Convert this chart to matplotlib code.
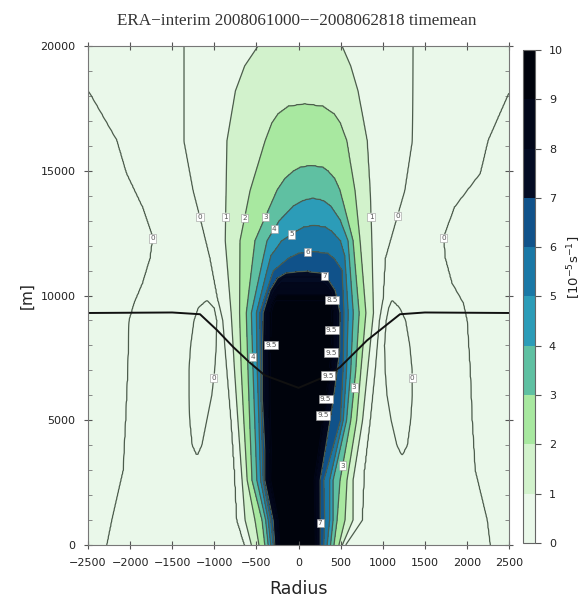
import numpy as np
import matplotlib.pyplot as plt

# title and colour levels
title = 'ERA\u2212interim 2008061000\u2212\u22122008062818 timemean'
levels = list(range(0, 11))
fill_colors = ['#eaf8ea', '#d2f2cc', '#a8e8a0', '#5fc0a2', '#2c9cb8',
               '#1a78a6', '#10528a', '#040c24', '#02071a', '#00030c']

# contour crossings: height [m], radius left / right
lev0_h = [0, 1000, 3000, 5000, 7000, 9000, 9800, 11500, 13150, 14200, 16200, 20000]
lev0_left = [-640, -730, -760, -800, -850, -900, -955, -1050, -1170, -1250, -1360, -1360]
lev0_right = [560, 754, 780, 850, 910, 960, 1000, 1030, 1170, 1260, 1350, 1360]

lev1_h = [0, 1000, 2600, 5000, 7000, 9300, 12200, 14200, 16200, 18200, 19200, 20000]
lev1_left = [-560, -635, -670, -720, -760, -800, -870, -860, -850, -750, -640, -481]
lev1_right = [520, 647, 647, 760, 820, 890, 870, 850, 815, 707, 620, 517]

lev2_h = [0, 1000, 2600, 5000, 7000, 9300, 12200, 14200, 16200, 16900, 17300, 17600, 17700]
lev2_left = [-470, -517, -610, -650, -680, -700, -695, -576, -398, -320, -240, -120, 75]
lev2_right = [480, 552, 576, 690, 740, 800, 730, 671, 576, 500, 420, 290, 75]

lev3_h = [0, 1000, 2600, 5000, 7000, 9300, 12200, 14230, 14700, 15000, 15150, 15230]
lev3_left = [-400, -433, -553, -580, -600, -620, -517, -255, -160, -60, 20, 150]
lev3_right = [420, 457, 493, 620, 680, 720, 647, 493, 430, 350, 290, 150]

lev4_h = [0, 1000, 2600, 5000, 7000, 9300, 12200, 13000, 13600, 13830, 13910]
lev4_left = [-360, -390, -495, -520, -540, -560, -374, -230, -60, 60, 170]
lev4_right = [380, 410, 410, 570, 620, 650, 588, 500, 380, 290, 170]

lev5_h = [0, 1000, 2600, 5000, 7000, 9300, 11600, 12200, 12600, 12750, 12830]
lev5_left = [-330, -360, -450, -470, -490, -500, -330, -200, -20, 60, 190]
lev5_right = [340, 370, 370, 530, 570, 590, 550, 500, 390, 320, 190]

lev6_h = [0, 1000, 2600, 5000, 7000, 9300, 11000, 11500, 11700, 11780]
lev6_left = [-300, -330, -420, -440, -450, -460, -300, -120, 0, 170]
lev6_right = [300, 310, 300, 500, 530, 540, 520, 420, 350, 170]

lev7_h = [0, 1000, 2600, 3800, 5800, 7800, 9300, 10200, 10700, 10900, 10980]
lev7_left = [-280, -300, -400, -400, -430, -430, -420, -340, -250, -150, 50]
lev7_right = [255, 255, 255, 315, 410, 490, 493, 435, 340, 260, 50]

# value in the middle of the column
peak_h = [0, 9600, 10980, 11780, 12830, 13910, 15230, 17700, 20000]
peak_val = [9.9, 9.9, 7, 6, 5, 4, 3, 2, 1.6]

# outer zero lines
far_h = [0, 1000, 3000, 5000, 7000, 9000, 9700, 10500, 11500, 12350, 13550, 14900, 16230, 18100, 20000]
far_left = [-2275, -2215, -2080, -2050, -2025, -2010, -1950, -1850, -1760, -1727, -1850, -2040, -2156, -2475, -2900]
far_right = [2275, 2239, 2096, 2060, 2037, 2000, 1954, 1820, 1740, 1720, 1850, 2156, 2250, 2494, 2900]

ell_h = [3600, 4000, 5000, 6000, 7000, 8000, 9000, 9500, 9800]
ell_left_out = [-1205, -1260, -1290, -1300, -1300, -1280, -1240, -1190, -1087]
ell_left_in = [-1205, -1150, -1090, -1030, -995, -975, -970, -1000, -1087]
ell_right_in = [1229, 1170, 1100, 1050, 1027, 1020, 1040, 1070, 1110]
ell_right_out = [1229, 1290, 1330, 1350, 1348, 1320, 1270, 1200, 1110]

# thick black line
trop_r = [-2500, -1500, -1170, -970, -777, -575, -400, 0, 350, 493, 813, 1205, 1500, 2500]
trop_h = [9300, 9320, 9250, 8620, 7940, 7300, 6800, 6300, 6800, 7130, 8200, 9250, 9320, 9300]

# where the contour labels sit (radius, height)
label_pos = [(-1740, 12300), (-1170, 13150), (-1016, 6700), (-909, 13150),
             (-700, 13150), (-395, 13150), (-302, 12700), (-125, 12625),
             (113, 11700), (315, 10820), (909, 13150),
             (1206, 13150), (1325, 6700), (1740, 12300), (635, 6330),
             (493, 3200), (280, 880), (-575, 7540)]
core_label_pos = [(398, 9820), (374, 8620), (339, 7735), (315, 6810),
                  (-220, 8015), (200, 5900), (60, 5300)]

col_h = [lev0_h, lev1_h, lev2_h, lev3_h, lev4_h, lev5_h, lev6_h, lev7_h]
col_left = [lev0_left, lev1_left, lev2_left, lev3_left, lev4_left, lev5_left, lev6_left, lev7_left]
col_right = [lev0_right, lev1_right, lev2_right, lev3_right, lev4_right, lev5_right, lev6_right, lev7_right]

# build the field from the digitised crossings
r_grid = np.linspace(-2500, 2500, 501)
h_grid = np.linspace(0, 20000, 401)
Z = np.zeros((len(h_grid), len(r_grid)))
for i, h in enumerate(h_grid):
    present = [L for L in range(8) if h <= col_h[L][-1]]
    lefts = [np.interp(h, col_h[L], col_left[L]) for L in present]
    rights = [np.interp(h, col_h[L], col_right[L]) for L in present]
    centre = 0.5 * (lefts[-1] + rights[-1])
    peak = np.interp(h, peak_h, peak_val)
    in_ell = ell_h[0] < h < ell_h[-1]

    fl = np.interp(h, far_h, far_left)
    rk = [-6000, fl]
    vk = [0.3, 0.0]
    if in_ell:
        eo = np.interp(h, ell_h, ell_left_out)
        ei = np.interp(h, ell_h, ell_left_in)
        rk += [0.5 * (fl + eo), eo, 0.5 * (eo + ei), ei, 0.5 * (ei + lefts[0])]
        vk += [-0.3, 0, 0.3, 0, -0.3]
    else:
        rk += [0.5 * (fl + lefts[0])]
        vk += [-0.3]
    if present[-1] == 7:
        # core saturates quickly inside the 7 line
        rk += lefts + [0.75 * lefts[-1] + 0.25 * centre, centre,
                       0.75 * rights[-1] + 0.25 * centre] + rights[::-1]
        vk += present + [peak, peak, peak] + present[::-1]
    else:
        rk += lefts + [centre] + rights[::-1]
        vk += present + [peak] + present[::-1]
    fr = np.interp(h, far_h, far_right)
    if in_ell:
        ei = np.interp(h, ell_h, ell_right_in)
        eo = np.interp(h, ell_h, ell_right_out)
        rk += [0.5 * (rights[0] + ei), ei, 0.5 * (ei + eo), eo, 0.5 * (eo + fr)]
        vk += [-0.3, 0, 0.3, 0, -0.3]
    else:
        rk += [0.5 * (rights[0] + fr)]
        vk += [-0.3]
    rk += [fr, 6000]
    vk += [0.0, 0.3]
    rk = np.maximum.accumulate(np.array(rk, dtype=float)) + np.arange(len(rk)) * 1e-3
    Z[i] = np.interp(r_grid, rk, vk)

R, H = np.meshgrid(r_grid, h_grid)

fig = plt.figure(figsize=(5.88, 6.08), dpi=100)
ax = fig.add_axes([0.1497, 0.1036, 0.716, 0.8207])
ax.set_facecolor(fill_colors[0])

cf = ax.contourf(R, H, Z, levels=levels, colors=fill_colors)
cs = ax.contour(R, H, Z, levels=list(range(0, 8)), colors='#4d5d4d', linewidths=0.9)
labels = ax.clabel(cs, levels=list(range(0, 8)), manual=label_pos, fmt='%d',
                   fontsize=5.2, inline=True, inline_spacing=2, colors='#555555')
# lines inside the black core (dark on dark), only their labels show
cs_core = ax.contour(R, H, Z, levels=[7.5, 8, 8.5, 9, 9.5], colors='#02061a',
                     linewidths=0.6)
labels += ax.clabel(cs_core, manual=core_label_pos, fmt='%g', fontsize=5.2,
                    inline=True, inline_spacing=2, colors='#555555')
for t in labels:
    t.set_rotation(0)
    t.set_bbox(dict(facecolor='white', edgecolor='#999999', linewidth=0.4, pad=0.9))
ax.plot(trop_r, trop_h, color='#111111', lw=1.4)

ax.set_xlim(-2500, 2500)
ax.set_ylim(0, 20000)
ax.set_xticks(np.arange(-2500, 2501, 500))
ax.set_xticklabels([str(v).replace('-', '\u2212') for v in range(-2500, 2501, 500)])
ax.set_yticks(np.arange(0, 20001, 5000))
ax.set_yticks(np.arange(0, 20001, 1000), minor=True)
ax.tick_params(axis='both', which='major', labelsize=8, colors='#555555',
               labelcolor='#222222', direction='inout', length=6, top=True, right=True)
ax.tick_params(axis='x', which='major', pad=6)
ax.tick_params(axis='y', which='major', pad=6)
ax.tick_params(axis='y', which='minor', direction='in', length=3, colors='#777777',
               right=True)
for s in ax.spines.values():
    s.set_color('#777777')
ax.set_xlabel('Radius', fontsize=12.5, color='#222222', labelpad=9)
ax.set_ylabel('[m]', fontsize=11, color='#222222', labelpad=4)
fig.text(0.505, 0.965, title, fontsize=12.3, family='Liberation Serif',
         color='#333333', ha='center', va='center')

cax = fig.add_axes([0.8895, 0.1069, 0.0204, 0.811])
cb = fig.colorbar(cf, cax=cax, ticks=levels)
cb.outline.set_edgecolor('#666666')
cax.tick_params(labelsize=8, colors='#555555', labelcolor='#222222', length=4, pad=6)
cax.set_ylabel('[10$^{-5}$s$^{-1}$]', fontsize=9.5, color='#222222')
cax.yaxis.set_label_coords(3.55, 0.56)

fig.savefig('out.png', dpi=100)
